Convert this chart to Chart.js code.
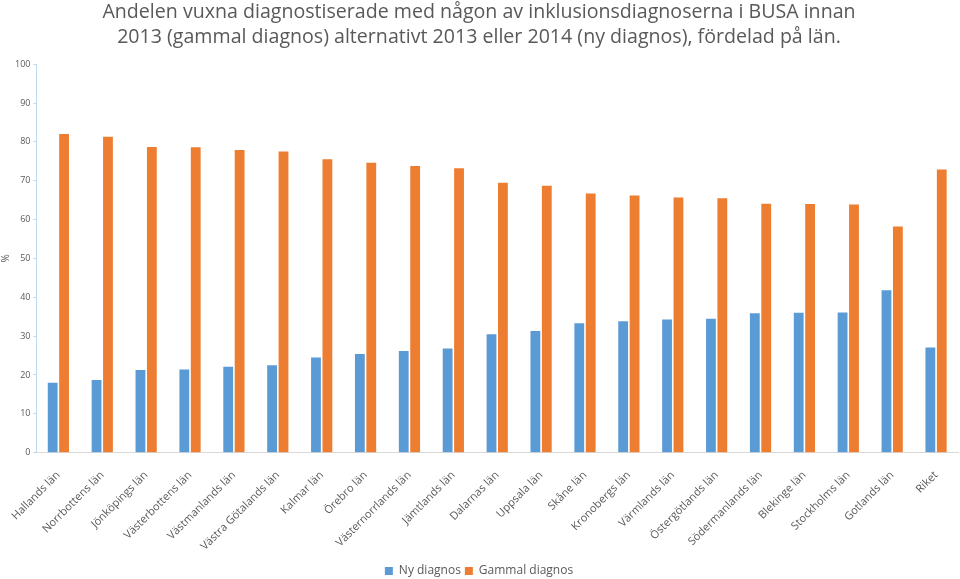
<!DOCTYPE html>
<html lang="sv">
<head>
  <meta charset="UTF-8" />
  <title>Andelen vuxna diagnostiserade</title>
  <script src="https://cdn.jsdelivr.net/npm/chart.js"></script>
  <style>
    * { margin: 0; padding: 0; box-sizing: border-box; }
    body { background: #fff; width: 960px; height: 579px; overflow: hidden; }
    #wrap { width: 960px; height: 579px; }
  </style>
</head>
<body>
  <div id="wrap"><canvas id="chart"></canvas></div>
  <script>
    const LAN = [
      'Hallands län', 'Norrbottens län', 'Jönköpings län', 'Västerbottens län',
      'Västmanlands län', 'Västra Götalands län', 'Kalmar län', 'Örebro län',
      'Västernorrlands län', 'Jämtlands län', 'Dalarnas län', 'Uppsala län',
      'Skåne län', 'Kronobergs län', 'Värmlands län', 'Östergötlands län',
      'Södermanlands län', 'Blekinge län', 'Stockholms län', 'Gotlands län', 'Riket'
    ];
    const NY_DIAGNOS = [
      18.0, 18.7, 21.3, 21.4, 22.1, 22.5, 24.5, 25.4, 26.2, 26.8, 30.5,
      31.3, 33.3, 33.8, 34.3, 34.5, 35.9, 36.0, 36.1, 41.8, 27.1
    ];
    const GAMMAL_DIAGNOS = [
      82.0, 81.3, 78.7, 78.6, 77.9, 77.5, 75.5, 74.6, 73.8, 73.2, 69.5,
      68.7, 66.7, 66.2, 65.7, 65.5, 64.1, 64.0, 63.9, 58.2, 72.9
    ];
    const Y_TICKS = [0, 10, 20, 30, 40, 50, 60, 70, 80, 90, 100];

    const FONT = "'Open Sans', 'Liberation Sans', sans-serif";
    const TEXT = '#595959';

    new Chart(document.getElementById('chart'), {
      type: 'bar',
      data: {
        labels: LAN,
        datasets: [
          {
            label: 'Ny diagnos',
            data: NY_DIAGNOS,
            backgroundColor: '#5B9BD5',
            categoryPercentage: 0.52,
            barPercentage: 0.86
          },
          {
            label: 'Gammal diagnos',
            data: GAMMAL_DIAGNOS,
            backgroundColor: '#ED7D31',
            categoryPercentage: 0.52,
            barPercentage: 0.86
          }
        ]
      },
      options: {
        responsive: true,
        maintainAspectRatio: false,
        animation: false,
        layout: { padding: { left: 0, right: 2, top: 0, bottom: -8 } },
        plugins: {
          title: {
            display: true,
            text: [
              'Andelen vuxna diagnostiserade med någon av inklusionsdiagnoserna i BUSA innan',
              '2013 (gammal diagnos) alternativt 2013 eller 2014 (ny diagnos), fördelad på län.'
            ],
            color: TEXT,
            font: { family: FONT, size: 19.6, weight: 'normal', lineHeight: 1.28 },
            padding: { top: 0, bottom: 14 }
          },
          legend: {
            position: 'bottom',
            labels: {
              color: TEXT,
              font: { family: FONT, size: 12 },
              boxWidth: 8,
              boxHeight: 8,
              padding: 4
            }
          },
          tooltip: { enabled: false }
        },
        scales: {
          x: {
            grid: { display: false },
            border: { color: '#D9D9D9' },
            ticks: {
              color: TEXT,
              font: { family: FONT, size: 11 },
              minRotation: 45,
              maxRotation: 45,
              autoSkip: false,
              padding: 8
            }
          },
          y: {
            min: 0,
            max: 100,
            afterBuildTicks: axis => { axis.ticks = Y_TICKS.map(v => ({ value: v })); },
            grid: { drawOnChartArea: false, color: '#BDD7EE', tickLength: 3 },
            border: { color: '#BDD7EE' },
            ticks: {
              color: TEXT,
              font: { family: FONT, size: 9 },
              padding: 3
            },
            title: {
              display: true,
              text: '%',
              color: TEXT,
              font: { family: FONT, size: 10 },
              padding: 0
            }
          }
        }
      }
    });
  </script>
</body>
</html>
